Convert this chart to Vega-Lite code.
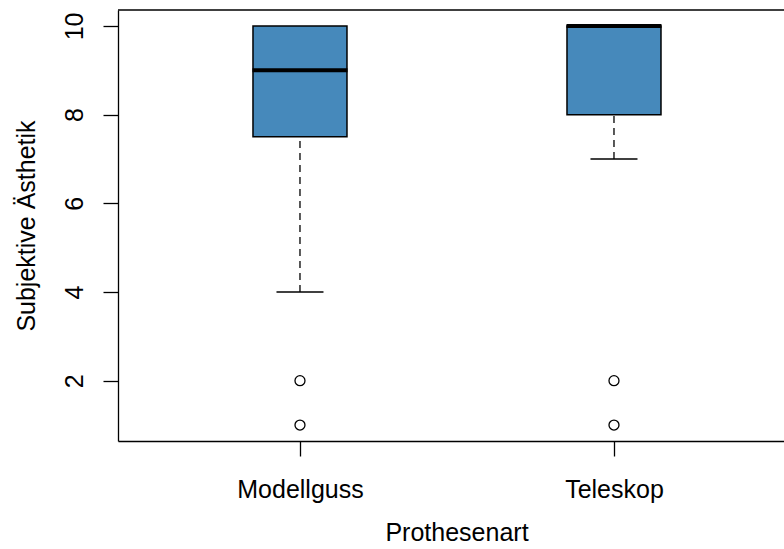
{
  "$schema": "https://vega.github.io/schema/vega-lite/v6.json",
  "width": 666,
  "height": 431,
  "autosize": {"type": "none"},
  "padding": {"left": 118, "top": 10, "right": 0, "bottom": 108},
  "background": "white",
  "config": {"view": {"stroke": null}, "font": "Liberation Sans"},
  "datasets": {
    "boxes": [
      {"art": "Modellguss", "q1": 7.5, "median": 9, "q3": 10, "lo": 4, "hi": 10},
      {"art": "Teleskop", "q1": 8, "median": 10, "q3": 10, "lo": 7, "hi": 10}
    ],
    "outliers": [
      {"art": "Modellguss", "value": 2},
      {"art": "Modellguss", "value": 1},
      {"art": "Teleskop", "value": 2},
      {"art": "Teleskop", "value": 1}
    ],
    "frame": [{"top": 10.36}]
  },
  "layer": [
    {
      "data": {"name": "boxes"},
      "mark": {"type": "rule", "stroke": "black", "strokeWidth": 1.3, "strokeDash": [7, 5]},
      "encoding": {
        "x": {
          "field": "art", "type": "nominal",
          "scale": {"type": "point", "padding": 0.5605, "align": 0.517},
          "axis": {
            "title": "Prothesenart", "titleFontSize": 25, "titleFontWeight": "normal", "titleColor": "black",
            "titleX": 338.5, "titleY": 99, "titleBaseline": "alphabetic", "titleAlign": "center",
            "labelFontSize": 25, "labelColor": "black", "labelAngle": 0, "labelPadding": 41,
            "labelBaseline": "alphabetic", "labelAlign": "center",
            "tickSize": 15, "tickColor": "black", "tickWidth": 1.3,
            "domainColor": "black", "domainWidth": 1.3, "grid": false
          }
        },
        "y": {
          "field": "lo", "type": "quantitative",
          "scale": {"domain": [0.64, 10.36], "nice": false, "zero": false},
          "axis": {
            "values": [2, 4, 6, 8, 10],
            "title": "Subjektive Ästhetik", "titleFontSize": 25, "titleFontWeight": "normal", "titleColor": "black",
            "titleAngle": 270, "titleX": -84, "titleY": 215.5, "titleAlign": "center", "titleBaseline": "alphabetic",
            "labelFontSize": 25, "labelColor": "black", "labelAngle": 270, "labelAlign": "center",
            "labelBaseline": "alphabetic", "labelPadding": 21,
            "tickSize": 15, "tickColor": "black", "tickWidth": 1.3,
            "domainColor": "black", "domainWidth": 1.3, "grid": false
          }
        },
        "y2": {"field": "q1"}
      }
    },
    {
      "data": {"name": "boxes"},
      "mark": {"type": "rule", "stroke": "black", "strokeWidth": 1.3, "strokeDash": [7, 5]},
      "encoding": {
        "x": {"field": "art", "type": "nominal"},
        "y": {"field": "q3", "type": "quantitative"},
        "y2": {"field": "hi"}
      }
    },
    {
      "data": {"name": "boxes"},
      "mark": {"type": "tick", "orient": "horizontal", "size": 47, "thickness": 1.3, "color": "black", "opacity": 1},
      "encoding": {
        "x": {"field": "art", "type": "nominal"},
        "y": {"field": "lo", "type": "quantitative"}
      }
    },
    {
      "data": {"name": "boxes"},
      "mark": {"type": "bar", "size": 94, "fill": "#4689BB", "stroke": "black", "strokeWidth": 1.5, "opacity": 1},
      "encoding": {
        "x": {"field": "art", "type": "nominal"},
        "y": {"field": "q1", "type": "quantitative"},
        "y2": {"field": "q3"}
      }
    },
    {
      "data": {"name": "boxes"},
      "mark": {"type": "tick", "orient": "horizontal", "size": 95, "thickness": 4, "color": "black", "opacity": 1},
      "encoding": {
        "x": {"field": "art", "type": "nominal"},
        "y": {"field": "median", "type": "quantitative"}
      }
    },
    {
      "data": {"name": "outliers"},
      "mark": {"type": "point", "shape": "circle", "filled": false, "stroke": "black", "strokeWidth": 1.3, "size": 100, "opacity": 1},
      "encoding": {
        "x": {"field": "art", "type": "nominal"},
        "y": {"field": "value", "type": "quantitative"}
      }
    },
    {
      "data": {"name": "frame"},
      "mark": {"type": "rule", "stroke": "black", "strokeWidth": 1.3},
      "encoding": {"y": {"field": "top", "type": "quantitative"}}
    }
  ]
}
